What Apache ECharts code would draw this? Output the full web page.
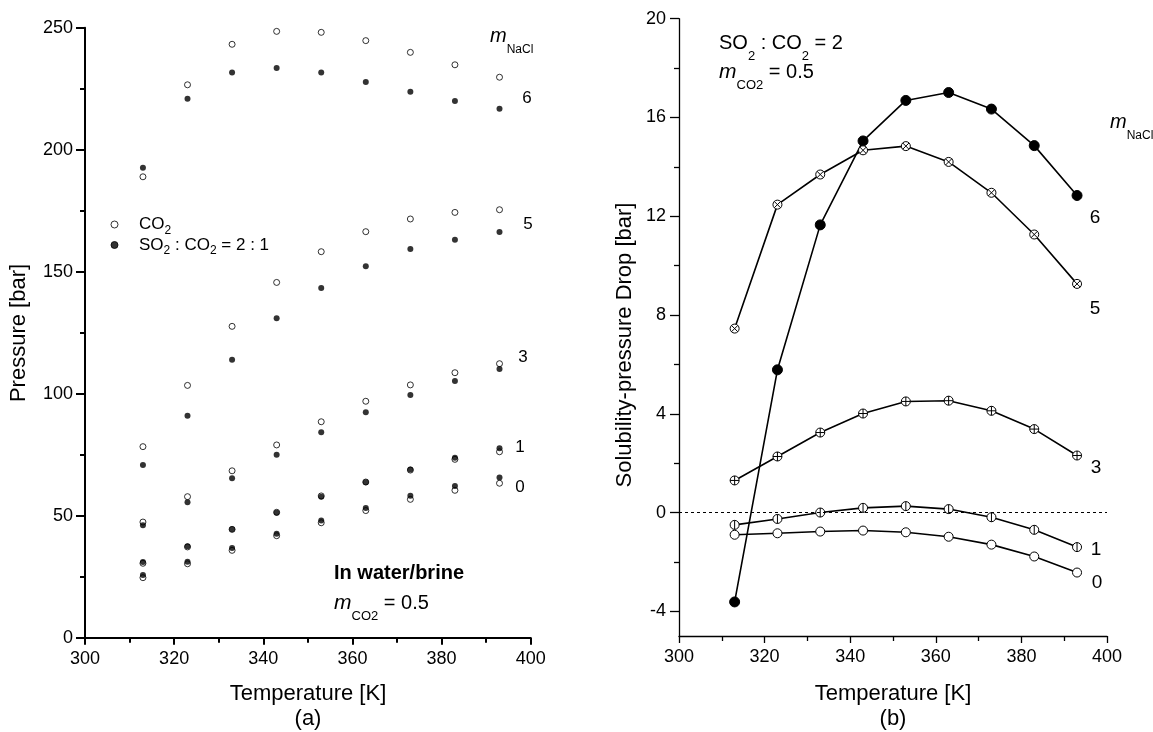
<!DOCTYPE html>
<html><head><meta charset="utf-8">
<script src="https://cdn.jsdelivr.net/npm/echarts@6/dist/echarts.min.js"></script>
<style>html,body{margin:0;padding:0;background:#fff}#c{width:1153px;height:732px}</style>
</head><body><div id="c"></div>
<script>
// ---- data ----
const temps = [313, 323, 333, 343, 353, 363, 373, 383, 393];
const xTicks = [300, 320, 340, 360, 380, 400];
const pressTicks = [0, 50, 100, 150, 200, 250];
const dropTicks = [-4, 0, 4, 8, 12, 16, 20];
const dropMinorTicks = [-2, 2, 6, 10, 14, 18];

// (a) pressure [bar], CO2 only (open) and SO2:CO2 = 2:1 (filled)
const co2_m0 = [24.6, 30.3, 35.8, 41.8, 47.1, 52.1, 56.7, 60.4, 63.3];
const mix_m0 = [25.7, 31.1, 36.8, 42.6, 48.0, 53.2, 58.2, 62.2, 65.7];
const co2_m1 = [30.5, 37.2, 44.4, 51.4, 58.1, 63.8, 68.7, 73.1, 76.2];
const mix_m1 = [31.0, 37.5, 44.4, 51.2, 57.8, 63.7, 68.9, 73.8, 77.6];
const co2_m3 = [47.4, 57.8, 68.4, 79.0, 88.5, 96.9, 103.6, 108.6, 112.3];
const mix_m3 = [46.1, 55.5, 65.3, 75.0, 84.2, 92.4, 99.5, 105.2, 110.1];
const co2_m5 = [78.3, 103.4, 127.6, 145.6, 158.2, 166.4, 171.6, 174.3, 175.4];
const mix_m5 = [70.8, 91.0, 113.9, 130.9, 143.3, 152.2, 159.3, 163.1, 166.3];
const co2_m6 = [188.9, 226.6, 243.2, 248.5, 248.1, 244.7, 239.9, 234.8, 229.7];
const mix_m6 = [192.6, 220.9, 231.6, 233.5, 231.6, 227.7, 223.8, 220.0, 216.8];

// (b) solubility-pressure drop [bar]
const drop_m0 = [-0.90, -0.84, -0.77, -0.73, -0.80, -0.98, -1.30, -1.78, -2.43];
const drop_m1 = [-0.50, -0.26, 0.00, 0.19, 0.26, 0.14, -0.19, -0.70, -1.40];
const drop_m3 = [1.30, 2.27, 3.24, 4.01, 4.50, 4.53, 4.12, 3.38, 2.31];
const drop_m5 = [7.45, 12.47, 13.69, 14.67, 14.84, 14.20, 12.95, 11.26, 9.26];
const drop_m6 = [-3.62, 5.78, 11.65, 15.05, 16.69, 17.01, 16.34, 14.86, 12.84];

// ---- styling ----
const FONT = '"Liberation Sans", Arial, Helvetica, sans-serif';
const pairs = arr => temps.map((t, i) => [t, arr[i]]);

const SYM_X = 'path://M10,0A10,10,0,1,1,-10,0A10,10,0,1,1,10,0ZM-7.07,-7.07L7.07,7.07M7.07,-7.07L-7.07,7.07';
const SYM_PLUS = 'path://M10,0A10,10,0,1,1,-10,0A10,10,0,1,1,10,0ZM-10,0L10,0M0,-10L0,10';
const SYM_BAR = 'path://M10,0A10,10,0,1,1,-10,0A10,10,0,1,1,10,0ZM0,-10L0,10';

function richSet(F, subF, d, H, mF) {
  return {
    n: {fontSize: F, lineHeight: H, verticalAlign: 'middle', fontFamily: FONT, color: '#000'},
    b: {fontSize: F, lineHeight: H, verticalAlign: 'middle', fontFamily: FONT, color: '#000', fontWeight: 'bold'},
    i: {fontSize: mF || F, lineHeight: H, verticalAlign: 'middle', fontFamily: FONT, color: '#000', fontStyle: 'italic'},
    s: {fontSize: subF, lineHeight: H - 2 * d, verticalAlign: 'bottom', fontFamily: FONT, color: '#000'}
  };
}
const R20 = richSet(20, 13, 11, 40, 21);
const RM = richSet(19, 12, 10, 40, 20);

function txt(x, y, text, opts) {
  opts = opts || {};
  const el = {
    type: 'text', x: x, y: y, z: 100,
    style: {
      text: text, fontFamily: FONT, fontSize: opts.size || 17, fill: '#000',
      fontWeight: opts.weight || 'normal',
      align: opts.align || 'left', verticalAlign: 'middle',
      textAlign: opts.align || 'left', textVerticalAlign: 'middle'
    }
  };
  if (opts.rich) el.style.rich = opts.rich;
  if (opts.rotation) el.rotation = opts.rotation;
  return el;
}

function xAxisDef(gridIndex, lw) {
  return {
    type: 'value', gridIndex: gridIndex, min: 300, max: 400, interval: 20,
    axisLine: {show: true, onZero: false, lineStyle: {color: '#000', width: lw}},
    axisTick: {show: true, length: 7, lineStyle: {color: '#000', width: lw}},
    minorTick: {show: true, splitNumber: 2, length: 5, lineStyle: {color: '#000', width: lw}},
    axisLabel: {color: '#000', fontSize: 18, fontFamily: FONT, margin: 12},
    splitLine: {show: false}, minorSplitLine: {show: false}
  };
}

function scatter(name, arr, open) {
  return {
    type: 'scatter', name: name, xAxisIndex: 0, yAxisIndex: 0,
    data: pairs(arr), symbol: 'circle', symbolSize: 6,
    itemStyle: open ? {color: '#fff', borderColor: '#000', borderWidth: 1}
                    : {color: '#000', borderColor: '#000', borderWidth: 0},
    z: open ? 2 : 3
  };
}

function dropLine(name, arr, symbol, fill, size, extra) {
  return Object.assign({
    type: 'line', name: name, xAxisIndex: 1, yAxisIndex: 1,
    data: pairs(arr), symbol: symbol, symbolSize: size, showSymbol: true,
    lineStyle: {color: '#000', width: 1.6},
    itemStyle: {color: fill, borderColor: '#000', borderWidth: 1},
    emphasis: {disabled: true}
  }, extra || {});
}

const option = {
  animation: false,
  backgroundColor: '#fff',
  textStyle: {fontFamily: FONT},
  grid: [
    {left: 85, top: 27.7, width: 445.7, height: 610},
    {left: 679, top: 18.7, width: 428, height: 617.3}
  ],
  xAxis: [xAxisDef(0, 2), xAxisDef(1, 1.3)],
  yAxis: [
    {
      type: 'value', gridIndex: 0, min: 0, max: 250, interval: 50,
      axisLine: {show: true, onZero: false, lineStyle: {color: '#000', width: 2}},
      axisTick: {show: true, length: 9, lineStyle: {color: '#000', width: 2}},
      minorTick: {show: true, splitNumber: 2, length: 5, lineStyle: {color: '#000', width: 2}},
      axisLabel: {color: '#000', fontSize: 18, fontFamily: FONT, margin: 12},
      splitLine: {show: false}, minorSplitLine: {show: false}
    },
    {
      type: 'value', gridIndex: 1, min: -5, max: 20, position: 'left',
      axisLine: {show: true, onZero: false, lineStyle: {color: '#000', width: 1.3}},
      axisTick: {show: true, length: 9, customValues: dropTicks, lineStyle: {color: '#000', width: 1.3}},
      axisLabel: {color: '#000', fontSize: 18, fontFamily: FONT, margin: 13, customValues: dropTicks},
      splitLine: {show: false}
    },
    {
      type: 'value', gridIndex: 1, min: -5, max: 20, position: 'left',
      axisLine: {show: false},
      axisTick: {show: true, length: 5, customValues: dropMinorTicks, lineStyle: {color: '#000', width: 1.3}},
      axisLabel: {show: false},
      splitLine: {show: false}
    }
  ],
  legend: {
    show: true, orient: 'vertical', left: 110.5, top: 216, padding: 0,
    itemWidth: 7, itemHeight: 7, itemGap: 0, selectedMode: false,
    itemStyle: {borderWidth: 1},
    data: [{name: 'CO2'}, {name: 'SO2'}],
    textStyle: {
      padding: [0, 0, 0, 16],
      rich: {
        n: {fontSize: 17, lineHeight: 24, verticalAlign: 'middle', fontFamily: FONT, color: '#000'},
        s: {fontSize: 12, lineHeight: 6, verticalAlign: 'bottom', fontFamily: FONT, color: '#000'}
      }
    },
    formatter: function (name) {
      return name === 'CO2' ? '{n|CO}{s|2}' : '{n|SO}{s|2}{n| : CO}{s|2}{n| = 2 : 1}';
    }
  },
  series: [
    scatter('CO2', co2_m0, true), scatter('CO2', co2_m1, true), scatter('CO2', co2_m3, true),
    scatter('CO2', co2_m5, true), scatter('CO2', co2_m6, true),
    scatter('SO2', mix_m0, false), scatter('SO2', mix_m1, false), scatter('SO2', mix_m3, false),
    scatter('SO2', mix_m5, false), scatter('SO2', mix_m6, false),
    dropLine('m0', drop_m0, 'circle', '#fff', 9, {
      markLine: {
        silent: true, symbol: 'none', label: {show: false},
        lineStyle: {color: '#000', width: 1, type: [3, 3]},
        data: [{yAxis: 0}]
      }
    }),
    dropLine('m1', drop_m1, SYM_BAR, '#fff', 9),
    dropLine('m3', drop_m3, SYM_PLUS, '#fff', 9),
    dropLine('m6', drop_m6, 'circle', '#000', 10),
    dropLine('m5', drop_m5, SYM_X, '#fff', 9)
  ],
  graphic: [
    // panel (a)
    txt(19, 333, 'Pressure [bar]', {size: 22, align: 'center', rotation: Math.PI / 2}),
    txt(308, 694, 'Temperature [K]', {size: 22, align: 'center'}),
    txt(308, 719, '(a)', {size: 22, align: 'center'}),
    txt(490, 36, '{i|m}{s|NaCl}', {rich: RM}),
    txt(527, 98, '6', {size: 17, align: 'center'}),
    txt(528, 224, '5', {size: 17, align: 'center'}),
    txt(523, 357, '3', {size: 17, align: 'center'}),
    txt(520, 447, '1', {size: 17, align: 'center'}),
    txt(520, 487, '0', {size: 17, align: 'center'}),
    txt(334, 573, '{b|In water/brine}', {rich: R20}),
    txt(334, 603, '{i|m}{s|CO2}{n| = 0.5}', {rich: R20}),
    // panel (b)
    txt(625, 345, 'Solubility-pressure Drop [bar]', {size: 22, align: 'center', rotation: Math.PI / 2}),
    txt(893, 694, 'Temperature [K]', {size: 22, align: 'center'}),
    txt(893, 719, '(b)', {size: 22, align: 'center'}),
    txt(719, 43, '{n|SO}{s|2}{n| : CO}{s|2}{n| = 2}', {rich: R20}),
    txt(719, 72, '{i|m}{s|CO2}{n| = 0.5}', {rich: R20}),
    txt(1110, 122, '{i|m}{s|NaCl}', {rich: RM}),
    txt(1095, 218, '6', {size: 19, align: 'center'}),
    txt(1095, 309, '5', {size: 19, align: 'center'}),
    txt(1096, 468, '3', {size: 19, align: 'center'}),
    txt(1096, 550, '1', {size: 19, align: 'center'}),
    txt(1097, 583, '0', {size: 19, align: 'center'})
  ]
};

const chart = echarts.init(document.getElementById('c'), null, {renderer: 'canvas'});
chart.setOption(option);
</script>
</body></html>
